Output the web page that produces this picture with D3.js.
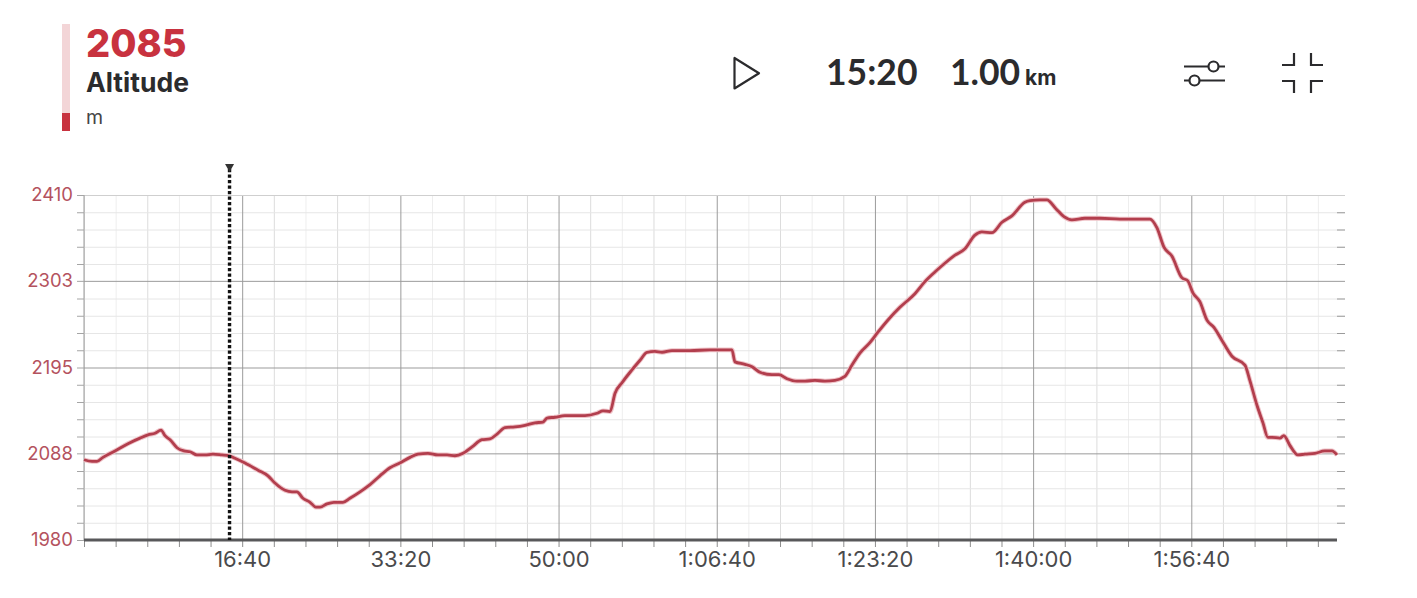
<!DOCTYPE html>
<html>
<head>
<meta charset="utf-8">
<script src="https://cdn.jsdelivr.net/npm/d3@7"></script>
<style>
  html, body { margin: 0; background: #fff; }
  svg { display: block; font-family: Inter, Lato, sans-serif; }
  .domain { display: none; }
</style>
</head>
<body>
<svg id="chart" width="1417" height="598"></svg>
<script>
// elapsed seconds
const times = [0,51,82,120,196,278,354,405,449,487,512,544,588,632,670,714,765,815,872,917,954,1018,1100,1163,1207,1271,1315,1346,1384,1429,1466,1492,1536,1580,1637,1681,1745,1808,1871,1934,1997,2061,2111,2174,2238,2295,2345,2396,2453,2516,2566,2611,2661,2724,2788,2851,2901,2927,2977,3040,3104,3167,3243,3281,3325,3357,3401,3464,3515,3559,3609,3654,3717,3831,3957,4096,4115,4178,4223,4273,4349,4393,4444,4507,4558,4621,4684,4747,4810,4855,4905,4968,5019,5095,5158,5253,5316,5379,5442,5506,5569,5632,5676,5740,5803,5866,5948,5980,6043,6087,6144,6195,6245,6327,6422,6549,6738,6783,6827,6877,6940,6978,7010,7054,7099,7143,7193,7257,7339,7370,7415,7453,7484,7510,7560,7585,7623,7674,7718,7781,7844,7889,7921];
// altitude in metres
const altitudes = [2080,2078,2078,2083,2091,2100,2107,2111,2113,2117,2110,2105,2095,2091,2090,2086,2086,2087,2086,2085,2082,2076,2067,2060,2051,2042,2040,2040,2032,2027,2021,2021,2025,2027,2027,2032,2040,2049,2060,2070,2076,2083,2087,2088,2086,2086,2085,2088,2096,2105,2106,2112,2120,2121,2123,2126,2127,2132,2133,2135,2135,2135,2138,2141,2140,2163,2176,2192,2204,2214,2215,2214,2216,2216,2217,2217,2202,2199,2196,2189,2186,2186,2181,2178,2178,2179,2178,2179,2184,2198,2213,2226,2239,2257,2270,2287,2302,2314,2325,2335,2343,2360,2364,2363,2376,2384,2401,2403,2404,2404,2393,2383,2379,2381,2381,2380,2380,2369,2345,2334,2307,2303,2288,2277,2254,2245,2229,2209,2198,2179,2148,2126,2108,2108,2107,2110,2098,2086,2087,2088,2091,2091,2086];

const yLabels = [1980, 2088, 2195, 2303, 2410];
const xMajor = [1000, 2000, 3000, 4000, 5000, 6000, 7000];
const xLabels = ["16:40", "33:20", "50:00", "1:06:40", "1:23:20", "1:40:00", "1:56:40"];
const xEnd = 7921;
const cursorTime = 920;

const margin = {top: 195, right: 80, bottom: 58, left: 84};
const width = 1417 - margin.left - margin.right;
const height = 598 - margin.top - margin.bottom;
const gridOverhang = 8;

const red = "#c8323f";
const lineRed = "#b23e4d";
const labelRed = "#b4525e";
const dark = "#2b2b2d";

const svg = d3.select("#chart");
const x = d3.scaleLinear().domain([0, xEnd]).range([0, width]);
const y = d3.scaleLinear().domain([1980, 2410]).range([height, 0]);

const xMinor = d3.range(0, xEnd, 200).filter(d => !xMajor.includes(d));
const yMinor = d3.range(1980, 2410.1, 21.5).filter(d => !yLabels.some(l => Math.abs(l - d) < 2));

const focus = svg.append("g").attr("transform", "translate(" + margin.left + "," + margin.top + ")");

// minor grid
focus.append("g")
  .call(d3.axisBottom(x).tickValues(xMinor).tickSize(-height).tickFormat(""))
  .attr("transform", "translate(0," + height + ")")
  .selectAll("line")
  .attr("stroke", d => d % 400 === 0 ? "#dcdcdc" : "#eeeeee");

focus.append("g")
  .call(d3.axisLeft(y).tickValues(yMinor).tickSize(-(width + gridOverhang)).tickFormat(""))
  .selectAll("line").attr("stroke", "#e6e6e6");

// major grid
focus.append("g")
  .call(d3.axisBottom(x).tickValues(xMajor).tickSize(-height).tickFormat(""))
  .attr("transform", "translate(0," + height + ")")
  .selectAll("line").attr("stroke", "#9b9b9b");

focus.append("g")
  .call(d3.axisLeft(y).tickValues(yLabels.slice(1, 4)).tickSize(-(width + gridOverhang)).tickFormat(""))
  .selectAll("line").attr("stroke", "#9b9b9b");

focus.append("g")
  .call(d3.axisLeft(y).tickValues([2410]).tickSize(-(width + gridOverhang)).tickFormat(""))
  .selectAll("line").attr("stroke", "#cfcfcf");

// left border plus the small ticks on both sides
focus.append("line").attr("y1", 0).attr("y2", height).attr("stroke", "#9b9b9b");

const leftTicks = focus.append("g")
  .call(d3.axisLeft(y).tickValues(yMinor.concat(yLabels)).tickSize(7).tickFormat(""));
leftTicks.selectAll("line").attr("stroke", "#a5a5a5");

const rightTicks = focus.append("g")
  .attr("transform", "translate(" + width + ",0)")
  .call(d3.axisRight(y).tickValues(yMinor).tickSize(gridOverhang).tickFormat(""));
rightTicks.selectAll("line").attr("stroke", "#9b9b9b");

// y labels
const yAxis = focus.append("g")
  .call(d3.axisLeft(y).tickValues(yLabels).tickSize(0).tickPadding(11).tickFormat(d3.format("d")));
yAxis.selectAll("text")
  .attr("fill", labelRed).attr("font-size", 18.5).attr("font-family", "Inter");

// x axis with labels
const xAxis = focus.append("g")
  .attr("transform", "translate(0," + height + ")")
  .call(d3.axisBottom(x)
    .tickValues(xMajor.concat(xMinor, [0]))
    .tickSize(7)
    .tickPadding(4)
    .tickFormat(d => xMajor.includes(d) ? xLabels[xMajor.indexOf(d)] : ""));
xAxis.selectAll("line").attr("stroke", "#8d8d8d");
xAxis.selectAll("text")
  .attr("fill", "#4a4a4c").attr("font-size", 22).attr("font-family", "Inter");

focus.append("line")
  .attr("x1", 0).attr("x2", width)
  .attr("y1", height).attr("y2", height)
  .attr("stroke", "#58585a").attr("stroke-width", 3);

// altitude line
const points = times.map((t, i) => ({t: t, alt: altitudes[i]}));
const line = d3.line().curve(d3.curveMonotoneX).x(d => x(d.t)).y(d => y(d.alt));

focus.append("path").datum(points)
  .attr("d", line)
  .attr("fill", "none")
  .attr("stroke", "#efc3c8")
  .attr("stroke-width", 4.8)
  .attr("stroke-linejoin", "round");

focus.append("path").datum(points)
  .attr("d", line)
  .attr("fill", "none")
  .attr("stroke", lineRed)
  .attr("stroke-width", 2.8)
  .attr("stroke-linejoin", "round");

// cursor
focus.append("line")
  .attr("x1", x(cursorTime)).attr("x2", x(cursorTime))
  .attr("y1", -26).attr("y2", height)
  .attr("stroke", "#111")
  .attr("stroke-width", 3.4)
  .attr("stroke-dasharray", "3.2 2.3");

focus.append("path")
  .attr("transform", "translate(" + x(cursorTime) + ",-27)")
  .attr("d", "M-4.5,-4H4.5L0,4Z")
  .attr("fill", "#333");

// header
const header = svg.append("g");
header.append("rect").attr("x", 62).attr("y", 24).attr("width", 8).attr("height", 89).attr("fill", "#f3d5d7");
header.append("rect").attr("x", 62).attr("y", 113).attr("width", 8).attr("height", 18).attr("fill", red);

header.append("text").attr("x", 86).attr("y", 57)
  .attr("fill", red).attr("font-size", 38).attr("font-weight", 800).text("2085");
header.append("text").attr("x", 86).attr("y", 92)
  .attr("fill", dark).attr("font-size", 26.5).attr("font-weight", 700).text("Altitude");
header.append("text").attr("x", 86).attr("y", 124)
  .attr("fill", "#444").attr("font-size", 19.5).text("m");

header.append("path")
  .attr("d", "M734.5,58V88.5L759,73.2Z")
  .attr("fill", "none").attr("stroke", dark).attr("stroke-width", 2.2).attr("stroke-linejoin", "round");

header.append("text").attr("x", 826).attr("y", 85)
  .attr("fill", dark).attr("font-size", 35.5).attr("font-weight", 700).attr("font-family", "Lato").text("15:20");
header.append("text").attr("x", 950).attr("y", 85)
  .attr("fill", dark).attr("font-size", 35.5).attr("font-weight", 700).attr("font-family", "Lato").text("1.00");
header.append("text").attr("x", 1025).attr("y", 85)
  .attr("fill", dark).attr("font-size", 21).attr("font-weight", 700).text("km");

// settings icon
const icons = header.append("g").attr("fill", "none").attr("stroke", dark).attr("stroke-width", 2.2);
icons.append("path").attr("d", "M1184,66.5H1208M1219,66.5H1225M1184,80.5H1189M1200,80.5H1225");
icons.append("circle").attr("cx", 1213.5).attr("cy", 66.5).attr("r", 5);
icons.append("circle").attr("cx", 1194.5).attr("cy", 80.5).attr("r", 5);

// collapse icon
icons.append("path").attr("d", "M1294,53V65H1282M1311,53V65H1323M1294,93V81H1282M1311,93V81H1323");
</script>
</body>
</html>
